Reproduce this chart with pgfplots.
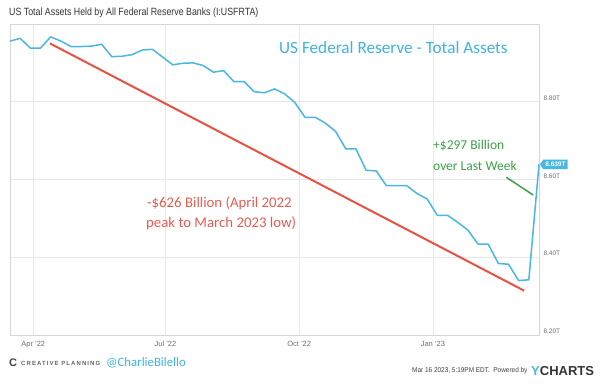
\documentclass[border=0pt]{standalone}
\usepackage{pgfplots}
\pgfplotsset{compat=1.18}
\usepackage{fontspec}
\setmainfont{Liberation Sans}
\newfontfamily\hand{Carlito}
\usetikzlibrary{shapes.symbols}
\definecolor{fedblue}{RGB}{72,183,226}
\definecolor{redline}{RGB}{232,82,66}
\definecolor{redtxt}{RGB}{230,92,80}
\definecolor{greentxt}{RGB}{62,160,72}
\definecolor{cyantxt}{RGB}{60,180,225}
\definecolor{gridc}{RGB}{232,232,232}
\definecolor{framec}{RGB}{214,214,214}
\definecolor{ticktxt}{RGB}{110,110,110}
\begin{document}
\begin{tikzpicture}[x=1pt,y=1pt]
\useasboundingbox (0,0) rectangle (604,383);
\begin{axis}[
  at={(10pt,48pt)}, anchor=south west,
  width=529pt, height=311pt, scale only axis,
  xmin=-16, xmax=348, ymin=8.2, ymax=9.0,
  clip=false,
  axis line style={draw=framec, line width=0.8pt},
  grid=major, major grid style={draw=gridc, line width=0.6pt},
  major tick length=0pt,
  xtick={0,91,183,275},
  xticklabels={Apr '22,Jul '22,Oct '22,Jan '23},
  xticklabel style={font=\fontsize{7.5}{8}\selectfont, text=ticktxt, yshift=-3pt},
  ytick={8.2,8.4,8.6,8.8},
  yticklabels={8.20T,8.40T,8.60T,8.80T},
  yticklabel pos=right,
  yticklabel style={font=\fontsize{6.5}{7}\selectfont, text=ticktxt, anchor=west, xshift=1pt, yshift=3.5pt},
]
\addplot[fedblue, line width=1.5pt, line join=round] coordinates {
(-16,8.956) (-9,8.963) (-2,8.938) (5,8.938) (12,8.967) (19,8.956) (26,8.942)
(33,8.942) (40,8.943) (47,8.948) (54,8.916) (61,8.917) (68,8.921) (75,8.933)
(82,8.935) (89,8.915) (96,8.895) (103,8.899) (110,8.900) (117,8.893) (124,8.876)
(131,8.880) (138,8.852) (145,8.852) (152,8.826) (159,8.823) (166,8.833) (173,8.820)
(180,8.798) (187,8.760) (194,8.760) (201,8.745) (208,8.724) (215,8.679) (222,8.679)
(229,8.624) (236,8.622) (243,8.584) (250,8.584) (257,8.584) (264,8.564) (271,8.550)
(278,8.508) (285,8.508) (292,8.490) (299,8.470) (306,8.434) (313,8.434) (320,8.384)
(327,8.382) (334,8.340) (341,8.342) (348,8.639)
};
\addplot[redline, line width=2pt] coordinates {(11.5,8.950) (337.8,8.314)};
\addplot[greentxt, line width=1.5pt] coordinates {(325.4,8.606) (344,8.560)};
\node[signal, signal to=west, signal pointer angle=110, fill=fedblue, text=white,
      font=\bfseries\fontsize{6.5}{7}\selectfont, inner xsep=2pt, inner ysep=2.5pt, anchor=west]
  at (axis cs:348.5,8.639) {8.639T};
\end{axis}
% title
\node[anchor=west, text=black!80, inner sep=0pt] at (9,370)
  {\scalebox{0.84}[1]{\fontsize{10.5}{12}\selectfont US Total Assets Held by All Federal Reserve Banks (I:USFRTA)}};
% annotations
\node[anchor=west, text=cyantxt, inner sep=0pt] at (279,335)
  {\hand\fontsize{17.2}{19}\selectfont US Federal Reserve - Total Assets};
\node[anchor=west, text=greentxt, inner sep=0pt] at (433,237)
  {\hand\fontsize{13.5}{15}\selectfont +\$297 Billion};
\node[anchor=west, text=greentxt, inner sep=0pt] at (433,217)
  {\hand\fontsize{13.5}{15}\selectfont over Last Week};
\node[anchor=west, text=redtxt, inner sep=0pt] at (147,180)
  {\hand\fontsize{14.8}{16}\selectfont -\$626 Billion (April 2022};
\node[anchor=west, text=redtxt, inner sep=0pt] at (146,160)
  {\hand\fontsize{14.8}{16}\selectfont peak to March 2023 low)};
% footer
\node[anchor=west, text=black!75, inner sep=0pt] at (9,20)
  {\bfseries\fontsize{11}{12}\selectfont C};
\node[anchor=west, text=black!60, inner sep=0pt] at (21,20)
  {\addfontfeatures{LetterSpace=18}\bfseries\fontsize{6}{6}\selectfont CREATIVE PLANNING};
\node[anchor=west, text=cyantxt, inner sep=0pt] at (106,20)
  {\hand\fontsize{12.8}{14}\selectfont @CharlieBilello};
\node[anchor=west, text=black!75, inner sep=0pt] at (412,12)
  {\scalebox{0.92}[1]{\fontsize{7}{8}\selectfont Mar 16 2023, 5:19PM EDT.\ \ Powered by}};
\node[anchor=west, inner sep=0pt] at (531,12)
  {\bfseries\fontsize{13}{14}\selectfont \textcolor{fedblue}{Y}\textcolor{black!80}{CHARTS}};
\end{tikzpicture}
\end{document}
